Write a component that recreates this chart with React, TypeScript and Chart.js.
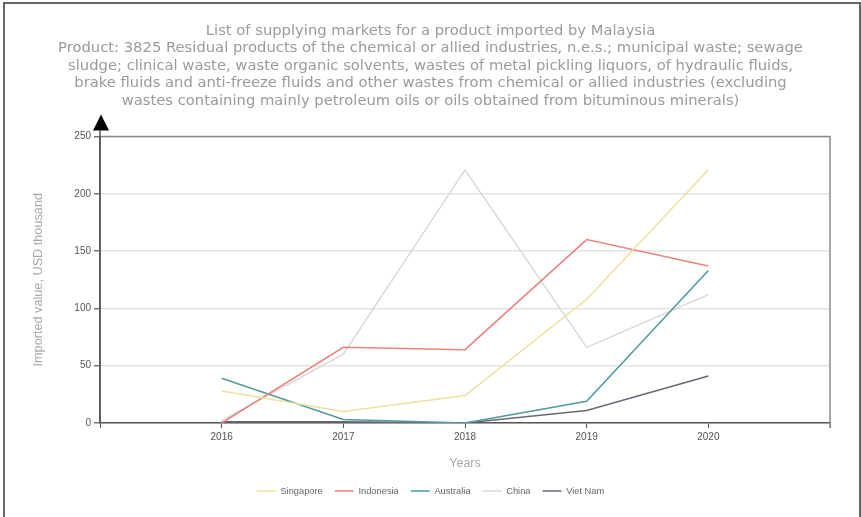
import React, { useEffect, useRef } from "react";
import { Chart, registerables } from "chart.js";

Chart.register(...registerables);

const years = [2016, 2017, 2018, 2019, 2020];
const singapore = [28, 10, 24, 108, 221];
const indonesia = [0, 66, 64, 160, 137];
const australia = [39, 3, 0, 19, 133];
const china = [2, 60, 221, 66, 112];
const vietnam = [1, 1, 0, 11, 41];

const titleLines = [
  "List of supplying markets for a product imported by Malaysia",
  "Product: 3825 Residual products of the chemical or allied industries, n.e.s.; municipal waste; sewage",
  "sludge; clinical waste, waste organic solvents, wastes of metal pickling liquors, of hydraulic fluids,",
  "brake fluids and anti-freeze fluids and other wastes from chemical or allied industries (excluding",
  "wastes containing mainly petroleum oils or oils obtained from bituminous minerals)",
];

const seriesNames = ["Singapore", "Indonesia", "Australia", "China", "Viet Nam"];
const seriesValues = [singapore, indonesia, australia, china, vietnam];
const seriesColors = ["#ede09c", "#e8827e", "#4e9a9c", "#d9d9d9", "#666a74"];

const yTicks = [0, 50, 100, 150, 200, 250];

const framePlugin = {
  id: "frameArrow",
  afterDraw(chart: any) {
    const { ctx, chartArea } = chart;
    const { left, top, right, bottom } = chartArea;
    ctx.save();
    ctx.strokeStyle = "#8a8a8a";
    ctx.lineWidth = 1.5;
    ctx.beginPath();
    ctx.moveTo(left, top);
    ctx.lineTo(right, top);
    ctx.lineTo(right, bottom + 5);
    ctx.stroke();
    ctx.strokeStyle = "#555";
    ctx.lineWidth = 1.5;
    ctx.beginPath();
    ctx.moveTo(left, bottom);
    ctx.lineTo(left, top - 6);
    ctx.stroke();
    ctx.fillStyle = "#000";
    ctx.beginPath();
    ctx.moveTo(left + 1, top - 22);
    ctx.lineTo(left - 7, top - 6);
    ctx.lineTo(left + 9, top - 6);
    ctx.closePath();
    ctx.fill();
    ctx.restore();
  },
};

export default function App() {
  const ref = useRef<HTMLCanvasElement | null>(null);

  useEffect(() => {
    if (!ref.current) return;
    const chart = new Chart(ref.current, {
      type: "line",
      data: {
        datasets: seriesNames.map((name, i) => ({
          label: name,
          data: years.map((yr, j) => ({ x: yr, y: seriesValues[i][j] })),
          borderColor: seriesColors[i],
          backgroundColor: seriesColors[i],
          borderWidth: 1.5,
          pointRadius: 0,
          pointStyle: "line",
          tension: 0,
          xAxisID: "x",
          yAxisID: "y",
        })),
      },
      options: {
        responsive: false,
        animation: false,
        devicePixelRatio: 1,
        layout: { padding: { left: 0, right: 0, top: 0, bottom: 11.4 } },
        plugins: {
          title: {
            display: true,
            text: titleLines,
            color: "#9b9b9b",
            font: { family: "DejaVu Sans", size: 14.75, weight: "normal", lineHeight: "17.5px" },
            padding: { top: 22, bottom: 27 },
          },
          legend: {
            position: "bottom",
            labels: {
              usePointStyle: true,
              pointStyleWidth: 19,
              boxHeight: 9,
              padding: 12,
              color: "#666",
              font: { family: "Liberation Sans", size: 9.3 },
            },
          },
          tooltip: { enabled: false },
        },
        scales: {
          x: {
            type: "linear",
            min: 2015,
            max: 2021,
            afterFit: (s: any) => {
              s.height = 51.3;
            },
            afterBuildTicks: (s: any) => {
              s.ticks = [2015, ...years, 2021].map((v) => ({ value: v }));
            },
            ticks: {
              stepSize: 1,
              color: "#555",
              font: { family: "Liberation Sans", size: 10 },
              padding: 3,
              callback: (v: any) => (years.includes(Number(v)) ? String(v) : ""),
              maxRotation: 0,
              autoSkip: false,
            },
            grid: {
              drawOnChartArea: false,
              drawTicks: true,
              tickLength: 5,
              color: "#555",
            },
            border: { color: "#555", width: 1.5 },
            title: {
              display: true,
              text: "Years",
              color: "#aaa",
              font: { family: "Liberation Sans", size: 12.5 },
              padding: { top: 0, bottom: 3.5 },
            },
          },
          y: {
            min: 0,
            max: 250,
            afterFit: (s: any) => {
              s.width = 100;
            },
            afterBuildTicks: (s: any) => {
              s.ticks = yTicks.map((v) => ({ value: v }));
            },
            ticks: {
              color: "#555",
              font: { family: "Liberation Sans", size: 10 },
              padding: 3,
            },
            grid: {
              color: "#e4e4e4",
              lineWidth: 1.5,
              drawTicks: true,
              tickLength: 6,
              tickColor: "#777",
            },
            border: { color: "#555", width: 1.5 },
            title: {
              display: true,
              text: "Imported value, USD thousand",
              color: "#aaa",
              font: { family: "Liberation Sans", size: 12.7 },
              padding: { top: 30.5, bottom: 0 },
            },
          },
          spacer: {
            type: "linear",
            position: "right",
            display: true,
            afterFit: (s: any) => {
              s.width = 31;
            },
            ticks: { display: false },
            grid: { display: false, drawTicks: false },
            border: { display: false },
            title: { display: false },
          },
        },
      },
      plugins: [framePlugin],
    });
    return () => chart.destroy();
  }, []);

  return (
    <div style={{ position: "fixed", left: 0, top: 0, width: 861, height: 517, background: "#fff", overflow: "hidden" }}>
      <canvas ref={ref} width={861} height={517} style={{ position: "absolute", left: 0, top: 0, width: 861, height: 517 }} />
      <div
        style={{
          position: "absolute",
          left: 3,
          top: 2,
          width: 854,
          height: 600,
          borderLeft: "2px solid #666",
          borderTop: "2px solid #666",
          borderRight: "2px solid #666",
          pointerEvents: "none",
        }}
      />
    </div>
  );
}
